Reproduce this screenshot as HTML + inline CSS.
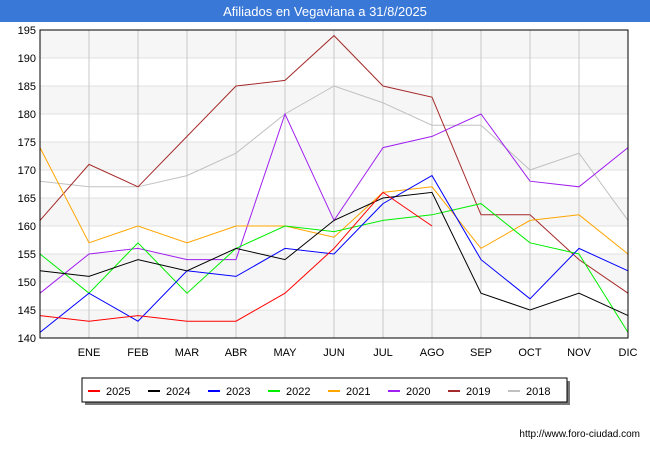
<!DOCTYPE html>
<html><head><meta charset="utf-8"><style>
body{margin:0;width:650px;height:450px;background:#fff;font-family:"Liberation Sans",sans-serif;overflow:hidden}
</style></head><body>
<svg width="650" height="450" xmlns="http://www.w3.org/2000/svg">
<rect x="0" y="0" width="650" height="22" fill="#3a78d8"/>
<text x="325" y="16" text-anchor="middle" fill="#fff" font-size="13">Afiliados en Vegaviana a 31/8/2025</text>
<g id="bands"></g><g id="grid"></g><g id="lines"></g><g id="axes"></g>
<rect x="40" y="30" width="588" height="308" fill="none" stroke="#000" stroke-width="1"/>
<g id="legend"></g>
<text x="640" y="437" text-anchor="end" font-size="10" fill="#000">http://www.foro-ciudad.com</text>
</svg>
<script>
const months=["","ENE","FEB","MAR","ABR","MAY","JUN","JUL","AGO","SEP","OCT","NOV","DIC"];
const yTicks=[140,145,150,155,160,165,170,175,180,185,190,195];
const seriesNames=["2025","2024","2023","2022","2021","2020","2019","2018"];
const seriesColors=["#ff0000","#000000","#0000ff","#00ee00","#ffa500","#a020f0","#a52a2a","#c0c0c0"];
const s2025=[144,143,144,143,143,148,156,166,160];
const s2024=[152,151,154,152,156,154,161,165,166,148,145,148,144];
const s2023=[141,148,143,152,151,156,155,164,169,154,147,156,152];
const s2022=[155,148,157,148,156,160,159,161,162,164,157,155,141];
const s2021=[174,157,160,157,160,160,158,166,167,156,161,162,155];
const s2020=[148,155,156,154,154,180,161,174,176,180,168,167,174];
const s2019=[161,171,167,176,185,186,194,185,183,162,162,154,148];
const s2018=[168,167,167,169,173,180,185,182,178,178,170,173,161];
const allSeries=[s2025,s2024,s2023,s2022,s2021,s2020,s2019,s2018];
const NS="http://www.w3.org/2000/svg";
const X0=40,X1=628,Y0=338,Y1=30,YMIN=140,YMAX=195;
const xs=i=>X0+i*(X1-X0)/(months.length-1);
const ys=v=>Y0-(v-YMIN)*(Y0-Y1)/(YMAX-YMIN);
function mk(t,a,p){const e=document.createElementNS(NS,t);for(const k in a)e.setAttribute(k,a[k]);p.appendChild(e);return e;}
const bands=document.getElementById('bands'),grid=document.getElementById('grid'),axes=document.getElementById('axes'),lines=document.getElementById('lines'),legend=document.getElementById('legend');
for(let i=0;i<yTicks.length-1;i++){
 if(i%2==0){const r=mk('rect',{x:X0,y:ys(yTicks[i+1]),width:X1-X0,height:ys(yTicks[i])-ys(yTicks[i+1]),fill:'#f6f6f6'},bands);
 
 }
}
yTicks.forEach(v=>{
 const l=mk('line',{x1:X0,x2:X1,y1:ys(v),y2:ys(v),stroke:'#e0e0e0'},grid);
 
 
 const t=mk('text',{x:X0-4,y:ys(v)+4,'text-anchor':'end','font-size':'11',fill:'#000'},axes);
 t.textContent=v;
 
 
});
months.forEach((m,i)=>{
 const l=mk('line',{x1:xs(i),x2:xs(i),y1:Y1,y2:Y0,stroke:'#c8c8c8'},grid);
 
 
 if(m){const t=mk('text',{x:xs(i),y:356,'text-anchor':'middle','font-size':'11',fill:'#000'},axes);
 t.textContent=m;
 
 }
});
for(let s=allSeries.length-1;s>=0;s--){
 const p=mk('polyline',{points:allSeries[s].map((v,i)=>xs(i)+','+ys(v)).join(' '),fill:'none',stroke:seriesColors[s],'stroke-width':'1'},lines);
 
 
}
const sh=mk('rect',{x:85,y:381,width:485,height:24,fill:'#777'},legend);


const lb=mk('rect',{x:82,y:378,width:485,height:24,fill:'#fff',stroke:'#000'},legend);


seriesNames.forEach((n,i)=>{
 const x=88+i*60;
 const g=mk('g',{},legend);
 
 
 mk('line',{x1:x,x2:x+12,y1:391,y2:391,stroke:seriesColors[i],'stroke-width':'2'},g);
 const t=mk('text',{x:x+18,y:395,'font-size':'11',fill:'#000'},g);
 t.textContent=n;
});
</script>
</body></html>
